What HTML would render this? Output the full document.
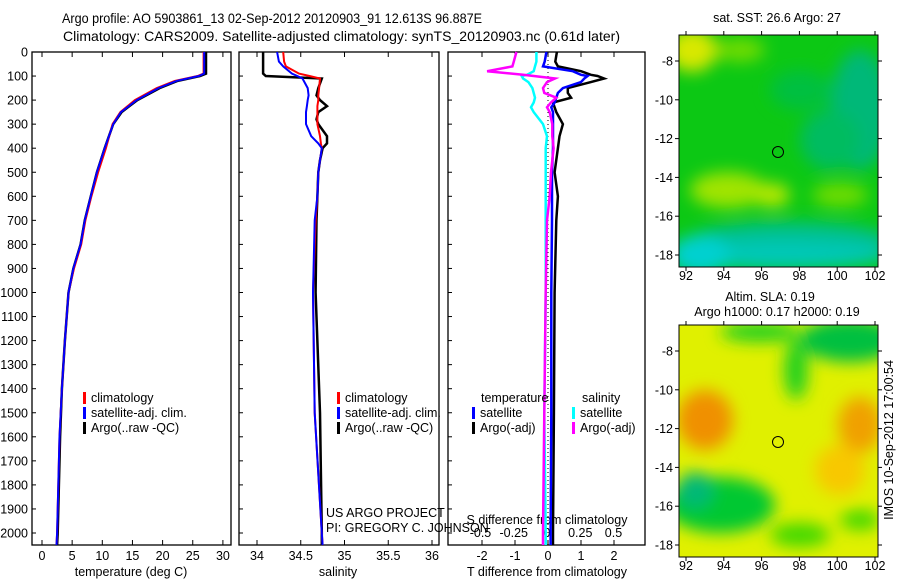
<!DOCTYPE html>
<html><head><meta charset="utf-8"><style>
body{margin:0;background:#fff}
svg{display:block;font-family:"Liberation Sans",sans-serif;font-size:12.5px}
</style></head><body>
<svg id="fig" width="900" height="580" viewBox="0 0 900 580">
<defs>
<filter id="blur1" x="-20%" y="-20%" width="140%" height="140%"><feGaussianBlur stdDeviation="8"/></filter>
<clipPath id="clipm1"><rect x="679" y="35" width="199" height="232"/></clipPath>
<clipPath id="clipm2"><rect x="679" y="325" width="199" height="232"/></clipPath>
</defs>
<text x="62" y="23" textLength="420" lengthAdjust="spacingAndGlyphs" font-size="14">Argo profile: AO 5903861_13 02-Sep-2012 20120903_91 12.613S 96.887E</text>
<text x="63" y="41" textLength="557" lengthAdjust="spacingAndGlyphs" font-size="14">Climatology: CARS2009. Satellite-adjusted climatology: synTS_20120903.nc (0.61d later)</text>

<g id="map1">
<text x="777" y="22" text-anchor="middle">sat. SST: 26.6 Argo: 27</text>
<g clip-path="url(#clipm1)">
<rect x="679" y="35" width="199" height="232" fill="#0cc814"/>
<g filter="url(#blur1)">
<ellipse cx="692" cy="50" rx="25" ry="22" fill="#d8e800"/>
<ellipse cx="740" cy="50" rx="25" ry="12" fill="#70dc00"/>
<ellipse cx="728" cy="190" rx="38" ry="18" fill="#a0e400"/>
<ellipse cx="772" cy="195" rx="18" ry="12" fill="#b8e800"/>
<ellipse cx="840" cy="195" rx="28" ry="12" fill="#70dc00"/>
<ellipse cx="860" cy="110" rx="30" ry="60" fill="#00b878"/>
<ellipse cx="830" cy="140" rx="30" ry="30" fill="#00bc60"/>
<ellipse cx="790" cy="240" rx="100" ry="18" fill="#00c090"/>
<ellipse cx="780" cy="255" rx="110" ry="14" fill="#00c8b8"/>
<ellipse cx="700" cy="255" rx="30" ry="20" fill="#00d0d0"/>
<ellipse cx="800" cy="90" rx="30" ry="20" fill="#00c040"/>
</g></g>
<rect x="679" y="35" width="199" height="232" fill="none" stroke="#000"/>
<circle cx="778" cy="152" r="5.5" fill="none" stroke="#000"/>
</g>

<g id="map2">
<text x="770" y="301" text-anchor="middle">Altim. SLA: 0.19</text>
<text x="777" y="316" text-anchor="middle">Argo h1000: 0.17 h2000: 0.19</text>
<g clip-path="url(#clipm2)">
<rect x="679" y="325" width="199" height="232" fill="#e0f000"/>
<g filter="url(#blur1)">
<ellipse cx="705" cy="420" rx="28" ry="30" fill="#f09000"/>
<ellipse cx="860" cy="425" rx="22" ry="28" fill="#f0a000"/>
<ellipse cx="840" cy="470" rx="25" ry="25" fill="#f8c800"/>
<ellipse cx="850" cy="340" rx="50" ry="22" fill="#00c040"/>
<ellipse cx="760" cy="332" rx="40" ry="10" fill="#20d020"/>
<ellipse cx="796" cy="370" rx="12" ry="30" fill="#20d020"/>
<ellipse cx="720" cy="505" rx="55" ry="28" fill="#00c830"/>
<ellipse cx="695" cy="490" rx="18" ry="18" fill="#00b878"/>
<ellipse cx="800" cy="535" rx="30" ry="12" fill="#40d800"/>
<ellipse cx="860" cy="520" rx="20" ry="10" fill="#40d800"/>
</g></g>
<rect x="679" y="325" width="199" height="232" fill="none" stroke="#000"/>
<circle cx="778" cy="442" r="5.5" fill="none" stroke="#000"/>
<text transform="translate(893,440) rotate(-90)" text-anchor="middle">IMOS 10-Sep-2012 17:00:54</text>
</g>
</svg>
<script>
// ---------- data ----------
const depthT   = [0,90,100,120,150,200,250,300,400,500,600,700,800,900,1000,1200,1400,1600,1800,2000,2050];
const tempArgo = [27.2,27.2,26.2,22.5,19.5,15.8,13.2,11.8,10.4,9.1,8.1,7.1,6.4,5.2,4.4,3.8,3.3,3.0,2.8,2.6,2.5];
const tempClim = [26.8,26.8,25.8,22.0,19.0,15.4,13.0,11.7,10.6,9.3,8.2,7.2,6.5,5.3,4.4,3.8,3.3,2.9,2.7,2.5,2.4];
const tempSat  = [26.9,26.9,26.0,22.3,19.3,15.7,13.1,11.8,10.4,9.1,8.1,7.1,6.4,5.2,4.4,3.8,3.3,2.9,2.7,2.5,2.4];
const depthS   = [0,40,60,90,100,110,150,180,200,225,250,280,300,350,380,400,450,500,600,700,1000,1500,2000,2050];
const salArgo  = [34.07,34.07,34.07,34.07,34.10,34.74,34.70,34.68,34.72,34.80,34.70,34.68,34.70,34.80,34.80,34.75,34.72,34.70,34.69,34.68,34.67,34.72,34.74,34.74];
const salClim  = [34.30,34.31,34.33,34.48,34.60,34.72,34.71,34.70,34.70,34.69,34.69,34.69,34.69,34.72,34.73,34.74,34.72,34.70,34.69,34.67,34.64,34.66,34.74,34.75];
const salSat   = [34.23,34.25,34.30,34.40,34.46,34.52,34.58,34.59,34.58,34.57,34.56,34.56,34.56,34.62,34.70,34.74,34.72,34.70,34.69,34.66,34.64,34.66,34.74,34.75];
const depthD   = [0,40,60,80,95,100,110,125,150,170,190,210,230,250,300,350,400,500,600,700,1000,1500,2000,2050];
const dTArgo   = [0.27,0.22,0.3,1.0,1.3,1.5,1.7,1.3,0.6,0.6,0.7,0.15,0.2,0.25,0.45,0.35,0.3,0.2,0.3,0.25,0.2,0.18,0.15,0.15];
const dTSat    = [-0.05,-0.1,-0.15,0.75,1.0,1.2,1.1,1.0,0.45,0.3,0.25,0.2,0.1,0.15,0.15,0.15,0.15,0.12,0.12,0.12,0.1,0.1,0.08,0.08];
const dSArgo   = [-0.23,-0.25,-0.26,-0.45,-0.18,-0.1,0.06,0.0,-0.03,-0.02,0.07,0.03,0.0,0.02,0.04,0.04,0.05,0.03,0.02,0.0,-0.01,-0.02,-0.03,-0.03];
const dSSat    = [-0.08,-0.08,-0.09,-0.1,-0.15,-0.19,-0.18,-0.14,-0.11,-0.1,-0.09,-0.1,-0.12,-0.1,-0.03,0.0,-0.01,-0.01,-0.01,-0.01,-0.01,-0.02,-0.01,-0.01];
const depthTicks = [0,100,200,300,400,500,600,700,800,900,1000,1100,1200,1300,1400,1500,1600,1700,1800,1900,2000];
const tempTicks = [0,5,10,15,20,25,30];
const salTicks = ["34","34.5","35","35.5","36"];
const dTTicks = [-2,-1,0,1,2];
const dSTicks = ["-0.5","-0.25","0","0.25","0.5"];
const lonTicks = [92,94,96,98,100,102];
const latTicks = [-8,-10,-12,-14,-16,-18];

// ---------- axes ----------
const svg = document.getElementById('fig');
const NS = 'http://www.w3.org/2000/svg';
const Y = d => 52 + d * 0.2405;
const XT = t => 42 + t * 6.03;
const XS = s => 257 + (s - 34) * 87.5;
const XdT = v => 548 + v * 33;
const XdS = v => 547 + v * 133;
function mk(tag, attrs, parent) {
  const e = document.createElementNS(NS, tag);
  for (const k in attrs) e.setAttribute(k, attrs[k]);
  (parent || svg).appendChild(e);
  return e;
}
function txt(x, y, s, anchor, parent) {
  const t = mk('text', {x: x, y: y, 'text-anchor': anchor || 'middle'}, parent);
  t.textContent = s;
  return t;
}
function line(xs, ys, xf, color, w, name, parent) {
  const pts = xs.map((v, i) => xf(v).toFixed(1) + ',' + Y(ys[i]).toFixed(1)).join(' ');
  const p = mk('polyline', {points: pts, fill: 'none', stroke: color, 'stroke-width': w}, parent);
  
  
}
const panels = [[32,231],[239,439],[448,645]];
const yTop = 52, yBot = 545;
panels.forEach((p, i) => {
  const g = mk('g', {});
  
  
  mk('rect', {x: p[0], y: yTop, width: p[1] - p[0], height: yBot - yTop, fill: 'none', stroke: '#000', 'stroke-width': 1.3}, g);
  depthTicks.forEach(d => mk('line', {x1: p[0], x2: p[0] + 4, y1: Y(d), y2: Y(d), stroke: '#000'}, g));
});
depthTicks.forEach(d => {
  const t = txt(28, Y(d) + 4.5, String(d), 'end');
  
  
});
function xticks(vals, xf, labels, ly) {
  vals.forEach((v, i) => {
    const x = xf(v);
    mk('line', {x1: x, x2: x, y1: yBot, y2: yBot - 5, stroke: '#000'});
    mk('line', {x1: x, x2: x, y1: yTop, y2: yTop + 5, stroke: '#000'});
    const t = txt(x, ly, labels[i]);
    
    
  });
}
xticks(tempTicks, XT, tempTicks.map(String), 560);
xticks(salTicks.map(Number), XS, salTicks, 560);
xticks(dTTicks, XdT, dTTicks.map(String), 560);
dSTicks.forEach(s => {
  const t = txt(XdS(Number(s)), 537, s);
  
  
});
[['temperature (deg C)',131,'temperature-axis-title'],['salinity',338,'salinity-axis-title'],['T difference from climatology',547,'t-diff-axis-title']].forEach(a => {
  const t = txt(a[1], 576, a[0]);
  
  
});
let t = txt(547, 524, 'S difference from climatology');


mk('line', {x1: XdT(0), x2: XdT(0), y1: yTop, y2: yBot, stroke: '#000', 'stroke-dasharray': '1,3'});

line(tempArgo, depthT, XT, '#000', 2.5, 'temp-argo-line');
line(tempClim, depthT, XT, '#f00', 2, 'temp-clim-line');
line(tempSat, depthT, XT, '#00f', 2, 'temp-sat-line');
line(salArgo, depthS, XS, '#000', 2.5, 'sal-argo-line');
line(salClim, depthS, XS, '#f00', 2, 'sal-clim-line');
line(salSat, depthS, XS, '#00f', 2, 'sal-sat-line');
line(dTArgo, depthD, XdT, '#000', 2.5, 'tdiff-argo-line');
line(dTSat, depthD, XdT, '#00f', 2.5, 'tdiff-sat-line');
line(dSSat, depthD, XdS, '#0ff', 2.5, 'sdiff-sat-line');
line(dSArgo, depthD, XdS, '#f0f', 2.5, 'sdiff-argo-line');

function legend(x, y, color, label, name) {
  const g = mk('g', {});
  
  
  mk('rect', {x: x, y: y - 10, width: 3, height: 12, fill: color}, g);
  txt(x + 8, y, label, 'start', g);
}
legend(83, 402, '#f00', 'climatology', 'legend-climatology');
legend(83, 417, '#00f', 'satellite-adj. clim.', 'legend-satellite-adj');
legend(83, 432, '#000', 'Argo(..raw -QC)', 'legend-argo');
legend(337, 402, '#f00', 'climatology', 'legend-climatology-2');
legend(337, 417, '#00f', 'satellite-adj. clim.', 'legend-satellite-adj-2');
legend(337, 432, '#000', 'Argo(..raw -QC)', 'legend-argo-2');
t = txt(481, 402, 'temperature', 'start');  
t = txt(582, 402, 'salinity', 'start');  
legend(472, 417, '#00f', 'satellite', 'legend-t-satellite');
legend(472, 432, '#000', 'Argo(-adj)', 'legend-t-argo');
legend(572, 417, '#0ff', 'satellite', 'legend-s-satellite');
legend(572, 432, '#f0f', 'Argo(-adj)', 'legend-s-argo');
t = txt(326, 517, 'US ARGO PROJECT', 'start');  
t = txt(326, 532, 'PI: GREGORY C. JOHNSON', 'start');  

const LX = lon => 686 + (lon - 92) * 18.9;
const LY1 = lat => 61 + (-8 - lat) * 19.4;
[[0,280],[290,570]].forEach(m => {
  lonTicks.forEach(l => {
    const x = LX(l);
    mk('line', {x1: x, x2: x, y1: 35 + m[0], y2: 31 + m[0], stroke: '#000'});
    mk('line', {x1: x, x2: x, y1: 267 + m[0], y2: 271 + m[0], stroke: '#000'});
    const tt = txt(x, m[1], String(l));
    
    
  });
  latTicks.forEach(l => {
    const y = LY1(l) + m[0];
    mk('line', {x1: 679, x2: 675, y1: y, y2: y, stroke: '#000'});
    mk('line', {x1: 878, x2: 882, y1: y, y2: y, stroke: '#000'});
    const tt = txt(673, y + 4.5, String(l), 'end');
    
    
  });
});
</script>
</body></html>
